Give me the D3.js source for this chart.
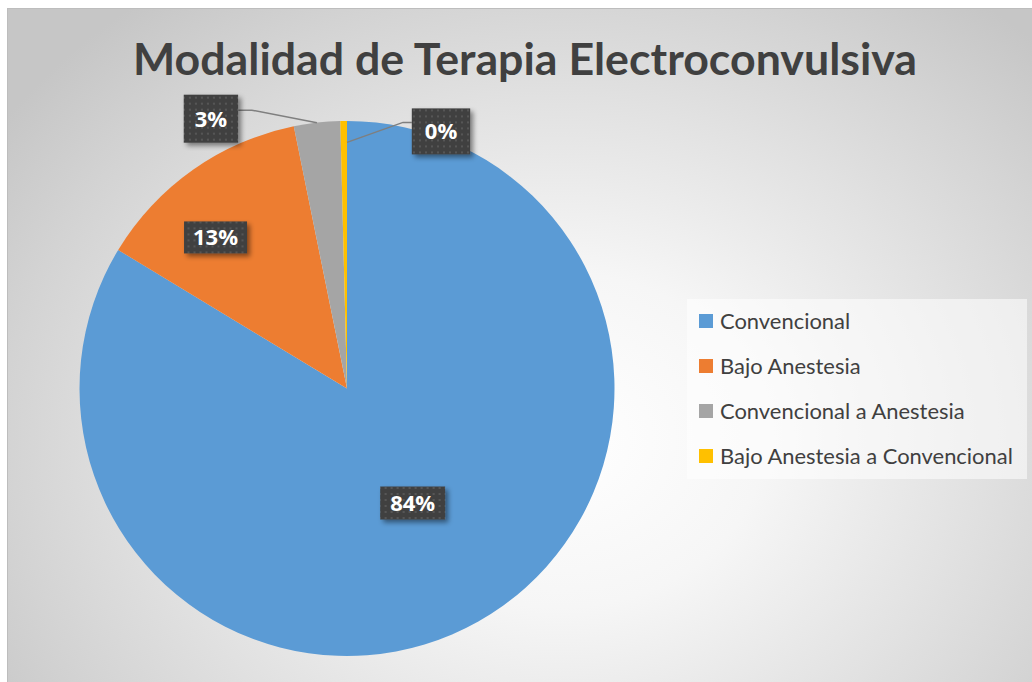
<!DOCTYPE html>
<html><head><meta charset="utf-8">
<script src="https://cdn.jsdelivr.net/npm/d3@7"></script>
<style>html,body{margin:0;padding:0;background:#fff;} svg{display:block;}</style>
</head><body>
<svg id="chart" width="1032" height="682"></svg>
<script>
const title = "Modalidad de Terapia Electroconvulsiva";
const categories = ["Convencional", "Bajo Anestesia", "Convencional a Anestesia", "Bajo Anestesia a Convencional"];
const counts = [210, 33, 7, 1];
const percentLabels = ["84%", "13%", "3%", "0%"];
const colors = ["#5B9BD5", "#ED7D31", "#A5A5A5", "#FFC000"];

const W = 1032, H = 682;
const svg = d3.select("#chart");
const defs = svg.append("defs");

// background gradient
const bg = defs.append("radialGradient").attr("id", "bg")
  .attr("gradientUnits", "userSpaceOnUse")
  .attr("cx", 560).attr("cy", 440).attr("r", 680)
  .attr("gradientTransform", "translate(560,440) scale(1,0.82) translate(-560,-440)");
[[0, "#ffffff"], [0.3, "#f6f6f6"], [0.6, "#e2e2e2"], [0.82, "#d3d3d3"], [1, "#c6c6c6"]]
  .forEach(([o, c]) => bg.append("stop").attr("offset", o).attr("stop-color", c));

// label pattern
const pat = defs.append("pattern").attr("id", "dots").attr("patternUnits", "userSpaceOnUse")
  .attr("width", 6).attr("height", 6);
pat.append("rect").attr("width", 6).attr("height", 6).attr("fill", "#404040");
pat.append("rect").attr("x", 2).attr("y", 2).attr("width", 2).attr("height", 2).attr("fill", "#575757");

const sh = defs.append("filter").attr("id", "shadow").attr("x", "-30%").attr("y", "-30%").attr("width", "170%").attr("height", "170%");
sh.append("feDropShadow").attr("dx", 3).attr("dy", 3).attr("stdDeviation", 2.5).attr("flood-color", "#000").attr("flood-opacity", 0.45);

svg.append("rect").attr("x", 7.5).attr("y", 8.5).attr("width", W).attr("height", H)
  .attr("fill", "url(#bg)").attr("stroke", "#bdbdbd");

// title
const titleText = svg.append("text").attr("x", 525).attr("y", 75).attr("text-anchor", "middle")
  .attr("font-family", "Lato, 'Open Sans', sans-serif").attr("font-weight", 700)
  .attr("font-size", 44).attr("fill", "#404040").text(title);
const tw = titleText.node().getComputedTextLength();
if (Math.abs(tw - 784) > 3) titleText.attr("textLength", 784).attr("lengthAdjust", "spacingAndGlyphs");

// pie
const cx = 347, cy = 388.5, R = 267.5;
const pie = d3.pie().sort(null).value(d => d);
const arcs = pie(counts);
const arc = d3.arc().innerRadius(0).outerRadius(R);
const g = svg.append("g").attr("transform", `translate(${cx},${cy})`);
g.selectAll("path.slice").data(arcs).join("path").attr("class", "slice")
  .attr("d", arc).attr("fill", (d, i) => colors[i]);

function polar(angle, r) { return [r * Math.sin(angle), -r * Math.cos(angle)]; }
const mid = d => (d.startAngle + d.endAngle) / 2;

// label layout: inside labels at radius fraction, outside labels with leader lines
const labelLayout = [
  { type: "in", rf: 0.5, nudge: [0, -2], padX: 10, h: 33 },
  { type: "in", rf: 0.75, nudge: [-16, 13], padX: 9, h: 32 },
  { type: "out", anchor: d => polar(mid(d), R), box: [-106, -4], elbow: [-65, -12.5], padX: 11, h: 48 },
  { type: "out", anchor: d => polar(d.endAngle, R * 0.92), box: [94, -11], elbow: [56, -20], padX: 13, h: 46 }
];

const lbl = g.append("g");
arcs.forEach((d, i) => {
  const L = labelLayout[i];
  let c;
  if (L.type === "in") {
    const p = polar(mid(d), R * L.rf);
    c = [p[0] + L.nudge[0], p[1] + L.nudge[1]];
  } else {
    const a = L.anchor(d);
    c = [a[0] + L.box[0], a[1] + L.box[1]];
  }
  const grp = lbl.append("g").attr("transform", `translate(${c[0]},${c[1]})`);
  const rect = grp.append("rect").attr("fill", "url(#dots)").attr("filter", "url(#shadow)");
  const t = grp.append("text").attr("text-anchor", "middle").attr("y", 8)
    .attr("font-family", "'Open Sans', sans-serif").attr("font-weight", 700)
    .attr("font-size", 22).attr("fill", "#ffffff").text(percentLabels[i]);
  const w = t.node().getComputedTextLength() + 2 * L.padX;
  rect.attr("x", -w / 2).attr("y", -L.h / 2).attr("width", w).attr("height", L.h);
  if (L.type === "out") {
    const a = L.anchor(d);
    const e = [a[0] + L.elbow[0], a[1] + L.elbow[1]];
    const edgeX = c[0] + (e[0] < a[0] ? w / 2 : -w / 2);
    lbl.insert("polyline", ":first-child")
      .attr("points", [a, e, [edgeX, e[1]]].map(p => p.join(",")).join(" "))
      .attr("fill", "none").attr("stroke", "#7f7f7f").attr("stroke-width", 1.5);
  }
});

// legend
const leg = svg.append("g");
leg.append("rect").attr("x", 687).attr("y", 299).attr("width", 340).attr("height", 180)
  .attr("fill", "#ffffff").attr("fill-opacity", 0.55);
const items = leg.selectAll("g.item").data(categories).join("g").attr("class", "item")
  .attr("transform", (d, i) => `translate(699,${314 + 45 * i})`);
items.append("rect").attr("width", 14).attr("height", 14).attr("fill", (d, i) => colors[i]);
const legTexts = items.append("text").attr("x", 21).attr("y", 15)
  .attr("font-family", "Lato, 'Open Sans', sans-serif").attr("font-size", 21)
  .attr("fill", "#404040").text(d => d);
const maxW = d3.max(legTexts.nodes(), n => n.getComputedTextLength());
const fs = 21 * 293 / maxW;
legTexts.attr("font-size", fs);
</script>
</body></html>
